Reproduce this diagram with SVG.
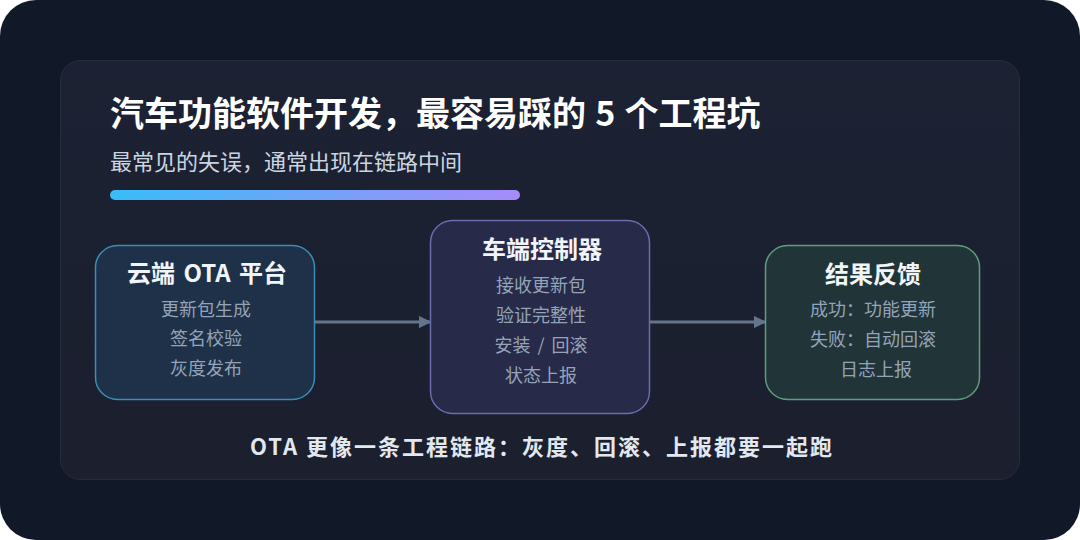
<svg xmlns="http://www.w3.org/2000/svg" width="1080" height="540" viewBox="0 0 1080 540">
<defs>
<linearGradient id="bar" x1="0" y1="0" x2="1" y2="0"><stop offset="0" stop-color="#38bdf8"/><stop offset="1" stop-color="#a78bfa"/></linearGradient>
<linearGradient id="card" x1="0" y1="0" x2="0" y2="1"><stop offset="0" stop-color="#1c2233"/><stop offset="1" stop-color="#1b1f2e"/></linearGradient>
<marker id="arr" viewBox="0 0 10 10" refX="9" refY="5" markerWidth="4.2" markerHeight="4.2" orient="auto" markerUnits="strokeWidth"><path d="M0,0 L10,5 L0,10 z" fill="#64748b"/></marker>
</defs>
<style>
text{font-family:"Noto Sans CJK SC","Noto Sans",sans-serif}
.nt{font-size:24px;font-weight:700;fill:#f1f5f9;text-anchor:middle}
.nl{font-size:18px;fill:#94a3b8;text-anchor:middle}
.edge{stroke:#64748b;stroke-width:3;fill:none;marker-end:url(#arr)}
</style>
<rect width="1080" height="540" fill="#ffffff"/>
<rect width="1080" height="540" rx="36" fill="#111827"/>
<rect x="60.5" y="60.5" width="959" height="419" rx="20" fill="url(#card)" stroke="#262d3d"/>
<text x="110" y="126" font-size="34" font-weight="700" fill="#ffffff" word-spacing="1.5">汽车功能软件开发，最容易踩的 5 个工程坑</text>
<text x="110" y="170" font-size="22" fill="#cbd5e1">最常见的失误，通常出现在链路中间</text>
<rect x="110" y="190" width="410" height="10" rx="5" fill="url(#bar)"/>
<g id="connectors">
<line class="edge" x1="315" y1="322" x2="430" y2="322"/>
<line class="edge" x1="650" y1="322" x2="765" y2="322"/>
</g>
<g id="cloud">
<rect x="95.5" y="245.5" width="219" height="154" rx="22" fill="#1e3148" stroke="#3b8db5" stroke-width="1.5"/>
<text class="nt" x="207" y="282" word-spacing="3">云端 OTA 平台</text>
<text class="nl" x="206" y="316">更新包生成</text>
<text class="nl" x="206" y="345">签名校验</text>
<text class="nl" x="206" y="375">灰度发布</text>
</g>
<g id="vehicle">
<rect x="430.5" y="220.5" width="219" height="193" rx="22" fill="#272a48" stroke="#6b6cae" stroke-width="1.5"/>
<text class="nt" x="542" y="258">车端控制器</text>
<text class="nl" x="541" y="292">接收更新包</text>
<text class="nl" x="541" y="322">验证完整性</text>
<text class="nl" x="541" y="352" word-spacing="3">安装 / 回滚</text>
<text class="nl" x="541" y="382">状态上报</text>
</g>
<g id="result">
<rect x="765.5" y="245.5" width="214" height="154" rx="22" fill="#213538" stroke="#5f9e7c" stroke-width="1.5"/>
<text class="nt" x="873" y="283">结果反馈</text>
<text class="nl" x="873" y="316">成功：功能更新</text>
<text class="nl" x="873" y="346">失败：自动回滚</text>
<text class="nl" x="876" y="376">日志上报</text>
</g>
<text x="542" y="455" font-size="22" font-weight="700" letter-spacing="2" fill="#e2e8f0" text-anchor="middle">OTA 更像一条工程链路：灰度、回滚、上报都要一起跑</text>
</svg>
